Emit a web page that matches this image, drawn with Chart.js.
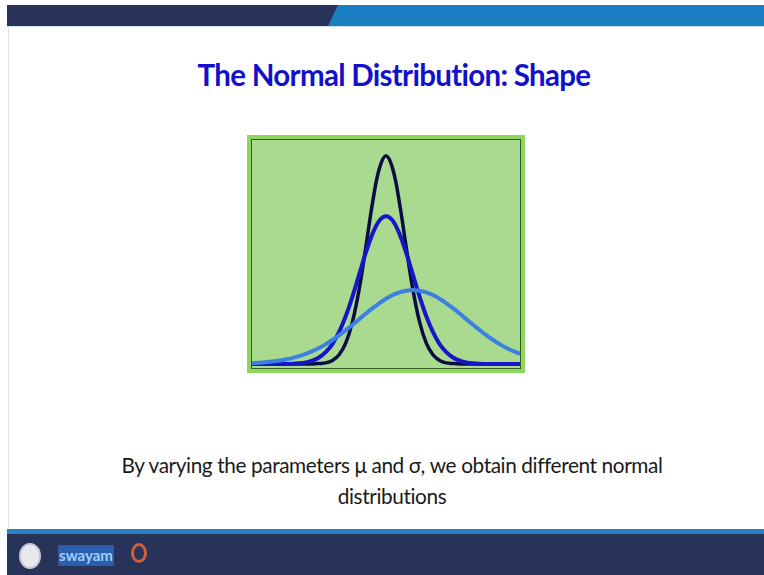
<!DOCTYPE html>
<html>
<head>
<meta charset="utf-8">
<script src="https://cdn.jsdelivr.net/npm/chart.js@4/dist/chart.umd.min.js"></script>
<style>
  body { margin: 0; width: 764px; height: 575px; background: #fff; position: relative; overflow: hidden; font-family: Lato, "Open Sans", sans-serif; }
  #topbar { position: absolute; left: 7px; top: 5px; width: 757px; height: 21px; background: #28335a; }
  #topbar .stripe { position: absolute; left: 321px; top: 0; right: 0; bottom: 0; background: #1b7fc3; clip-path: polygon(10px 0, 100% 0, 100% 100%, 0 100%); }
  #topline { position: absolute; left: 7px; top: 26px; width: 757px; height: 1px; background: #cfe0ef; }
  #leftline { position: absolute; left: 8px; top: 27px; width: 1px; height: 503px; background: #e2e2e2; }
  #title { position: absolute; left: 12px; width: 764px; top: 57px; text-align: center; color: #1111cc; font-weight: bold; font-size: 29.5px; letter-spacing: -0.7px; }
  #frame { position: absolute; left: 247px; top: 135px; width: 270px; height: 230px; border: 4px solid #8fd45c; background: #a9da8f; }
  #plot { position: absolute; left: 0; top: 0; width: 268px; height: 228px; border: 1px solid #2f5e22; }
  #caption { position: absolute; left: 10px; width: 764px; top: 449px; text-align: center; color: #1a1a1a; font-size: 20.8px; line-height: 31px; letter-spacing: -0.4px; }
  #bottomline { position: absolute; left: 7px; top: 529px; width: 757px; height: 5px; background: #2a80c2; }
  #bottombar { position: absolute; left: 7px; top: 534px; width: 757px; height: 41px; background: #28335a; }
  .logo1 { position: absolute; left: 19px; top: 543px; width: 22px; height: 26px; border-radius: 50%; background: #e8e8ee; border: 2px solid #c8c8d4; box-sizing: border-box; }
  .logo2 { position: absolute; left: 58px; top: 545px; width: 56px; height: 21px; background: #2b5fae; border: 1px solid #4a4f8a; box-sizing: border-box; color: #9fd0ff; font-size: 15px; font-weight: bold; text-align: center; line-height: 19px; }
  .logo3 { position: absolute; left: 131px; top: 543px; width: 16px; height: 20px; border-radius: 50%; border: 3px solid #d0603a; box-sizing: border-box; }
</style>
</head>
<body>
<div id="topbar"><div class="stripe"></div></div>
<div id="topline"></div>
<div id="leftline"></div>
<div id="title">The Normal Distribution: Shape</div>
<div id="frame"><div id="plot"><canvas id="curves"></canvas></div></div>
<div id="caption">By varying the parameters μ and σ, we obtain different normal<br>distributions</div>
<div id="bottomline"></div>
<div id="bottombar"></div>
<div class="logo1"></div>
<div class="logo2">swayam</div>
<div class="logo3"></div>
<script>
// x positions shared by all three curves
var xValues = [0, 0.25, 0.5, 0.75, 1, 1.25, 1.5, 1.75, 2, 2.25, 2.5, 2.75, 3, 3.25, 3.5, 3.75, 4, 4.25, 4.5, 4.75,
  5, 5.25, 5.5, 5.75, 6, 6.25, 6.5, 6.75, 7, 7.25, 7.5, 7.75, 8, 8.25, 8.5, 8.75, 9, 9.25, 9.5, 9.75, 10];

// tall narrow curve
var narrowCurve = [0, 0, 0, 0, 0, 0, 0, 0, 0, 0, 0.2, 0.5, 1.6, 4.1, 9.4, 18.9, 33.5, 52.4, 72.1, 87.2,
  93, 87.2, 72.1, 52.4, 33.5, 18.9, 9.4, 4.1, 1.6, 0.5, 0.2, 0, 0, 0, 0, 0, 0, 0, 0, 0, 0];

// same centre, wider spread
var mediumCurve = [0, 0, 0, 0, 0, 0, 0.1, 0.3, 0.7, 1.5, 2.9, 5.3, 8.9, 14.3, 21.4, 30.2, 40.0, 49.8, 58.2, 64.0,
  66, 64.0, 58.2, 49.8, 40.0, 30.2, 21.4, 14.3, 8.9, 5.3, 2.9, 1.5, 0.7, 0.3, 0.1, 0, 0, 0, 0, 0, 0];

// shifted right, widest spread
var wideCurve = [0.4, 0.5, 0.8, 1.1, 1.4, 2.0, 2.6, 3.5, 4.5, 5.7, 7.1, 8.8, 10.7, 12.8, 15.1, 17.5, 20.0, 22.5, 24.9, 27.1,
  29.1, 30.8, 32.0, 32.7, 33, 32.7, 32.0, 30.8, 29.1, 27.1, 24.9, 22.5, 20.0, 17.5, 15.1, 12.8, 10.7, 8.8, 7.1, 5.7, 4.5];

function toPoints(ys) {
  return xValues.map(function(x, i) { return { x: x, y: ys[i] }; });
}

function makeSet(ys, color, width) {
  return {
    data: toPoints(ys),
    borderColor: color,
    borderWidth: width,
    pointRadius: 0,
    tension: 0.4,
    fill: false
  };
}

var ctx = document.getElementById('curves').getContext('2d');
var chart = new Chart(ctx, {
  type: 'line',
  data: {
    datasets: [
      makeSet(wideCurve, '#3b80e2', 4),
      makeSet(mediumCurve, '#1616c8', 4),
      makeSet(narrowCurve, '#0c0c45', 3.5)
    ]
  },
  options: {
    responsive: true,
    maintainAspectRatio: false,
    animation: false,
    layout: { padding: 0 },
    plugins: { legend: { display: false }, tooltip: { enabled: false } },
    scales: {
      x: { type: 'linear', min: 0, max: 10, display: false },
      y: { min: -1.8, max: 100, display: false }
    }
  }
});
</script>
</body>
</html>
